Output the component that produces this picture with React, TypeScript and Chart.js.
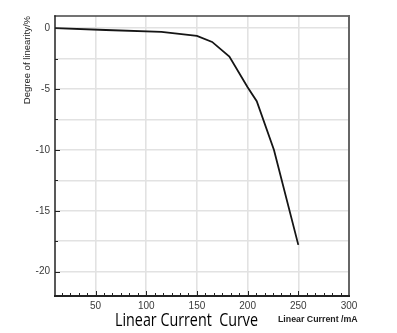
import React, { useEffect, useRef } from "react";
import { Chart, registerables } from "chart.js";

Chart.register(...registerables);

const currentMA = [10, 60, 115, 150, 165, 182, 200, 209, 226, 250];
const linearityPct = [0, -0.15, -0.3, -0.64, -1.13, -2.34, -4.85, -6.0, -10.0, -17.8];
const xTickValues = [50, 100, 150, 200, 250, 300];
const yTickValues = [-20, -17.5, -15, -12.5, -10, -7.5, -5, -2.5, 0];
const yAxisTitle = "Degree of linearity/%";
const xAxisTitle = "Linear Current /mA";
const caption = "Linear Current  Curve";

const decorPlugin = {
  id: "decor",
  afterDraw(chart: any) {
    const { ctx, chartArea: a, scales } = chart;
    const xs = scales.x;
    const ys = scales.y;
    ctx.save();
    // inward ticks
    ctx.strokeStyle = "#222";
    ctx.lineWidth = 1;
    const majorX = 50;
    for (let v = 50; v >= 10; v -= majorX / 6) {
      const px = Math.round(xs.getPixelForValue(v)) + 0.5;
      const len = Math.abs(v % 50) < 0.01 ? 5 : 3;
      ctx.beginPath();
      ctx.moveTo(px, a.bottom);
      ctx.lineTo(px, a.bottom - len);
      ctx.stroke();
    }
    for (let k = 0; k <= 30; k++) {
      const v = 50 + (k * 50) / 6;
      if (v > 300.01) break;
      const px = Math.round(xs.getPixelForValue(v)) + 0.5;
      const len = k % 6 === 0 ? 5 : 3;
      ctx.beginPath();
      ctx.moveTo(px, a.bottom);
      ctx.lineTo(px, a.bottom - len);
      ctx.stroke();
    }
    yTickValues.forEach((v) => {
      const py = Math.round(ys.getPixelForValue(v)) + 0.5;
      const len = v % 5 === 0 ? 5 : 3;
      ctx.beginPath();
      ctx.moveTo(a.left, py);
      ctx.lineTo(a.left + len, py);
      ctx.stroke();
    });
    // frame
    ctx.lineCap = "square";
    ctx.strokeStyle = "#444";
    ctx.lineWidth = 1.5;
    ctx.beginPath();
    ctx.moveTo(a.left, a.top);
    ctx.lineTo(a.right, a.top);
    ctx.stroke();
    ctx.strokeStyle = "#666";
    ctx.lineWidth = 2;
    ctx.beginPath();
    ctx.moveTo(a.right, a.top);
    ctx.lineTo(a.right, a.bottom);
    ctx.stroke();
    ctx.strokeStyle = "#222";
    ctx.lineWidth = 1.5;
    ctx.beginPath();
    ctx.moveTo(a.left, a.top);
    ctx.lineTo(a.left, a.bottom);
    ctx.stroke();
    ctx.lineWidth = 2;
    ctx.beginPath();
    ctx.moveTo(a.left, a.bottom);
    ctx.lineTo(a.right, a.bottom);
    ctx.stroke();

    // y axis title
    ctx.fillStyle = "#222";
    ctx.font = "9.5px 'Liberation Sans', Arial, sans-serif";
    ctx.save();
    ctx.translate(27, a.top);
    ctx.rotate(-Math.PI / 2);
    ctx.textAlign = "right";
    ctx.textBaseline = "middle";
    ctx.fillText(yAxisTitle, 0, 0);
    ctx.restore();

    // x axis title
    ctx.font = "bold 8.8px 'Liberation Sans', Arial, sans-serif";
    ctx.textAlign = "left";
    ctx.textBaseline = "middle";
    ctx.fillText(xAxisTitle, 278, 319.5);

    // caption
    ctx.fillStyle = "#000";
    ctx.font = "18px 'Open Sans', sans-serif";
    const w = ctx.measureText(caption).width;
    ctx.save();
    ctx.translate(115, 326);
    ctx.scale(143 / w, 1);
    ctx.textAlign = "left";
    ctx.textBaseline = "alphabetic";
    ctx.fillText(caption, 0, 0);
    ctx.restore();

    ctx.restore();
  },
};

export default function App() {
  const ref = useRef<HTMLCanvasElement | null>(null);
  useEffect(() => {
    if (!ref.current) return;
    const chart = new Chart(ref.current, {
      type: "line",
      data: {
        datasets: [
          {
            data: currentMA.map((x, i) => ({ x, y: linearityPct[i] })),
            borderColor: "#151515",
            borderWidth: 1.8,
            pointRadius: 0,
            tension: 0,
            fill: false,
          },
        ],
      },
      options: {
        animation: false,
        responsive: false,
        devicePixelRatio: 1,
        layout: { padding: { top: 16, right: 48, left: 0, bottom: 0 } },
        plugins: { legend: { display: false }, tooltip: { enabled: false } },
        scales: {
          x: {
            type: "linear",
            min: 10,
            max: 300,
            afterBuildTicks: (s: any) => {
              s.ticks = xTickValues.map((v) => ({ value: v }));
            },
            afterFit: (s: any) => {
              s.height = 37;
            },
            grid: {
              color: "#e2e2e2",
              drawTicks: false,
              lineWidth: (c: any) => (c.tick && c.tick.value === 300 ? 0 : 1.6),
            },
            border: { display: false },
            ticks: {
              color: "#3a3a3a",
              font: { size: 10, family: "'Liberation Sans', Arial, sans-serif" },
              padding: 4,
              maxRotation: 0,
              autoSkip: false,
            },
          },
          y: {
            type: "linear",
            min: -22,
            max: 1,
            afterBuildTicks: (s: any) => {
              s.ticks = yTickValues.map((v) => ({ value: v }));
            },
            afterFit: (s: any) => {
              s.width = 55;
            },
            grid: { color: "#e2e2e2", lineWidth: 1.6, drawTicks: false },
            border: { display: false },
            ticks: {
              color: "#3a3a3a",
              font: { size: 10, family: "'Liberation Sans', Arial, sans-serif" },
              padding: 5,
              autoSkip: false,
              callback: (v: any) => (Number(v) % 5 === 0 ? String(v) : ""),
            },
          },
        },
      },
      plugins: [decorPlugin],
    });
    return () => chart.destroy();
  }, []);
  return (
    <div style={{ position: "fixed", left: 0, top: 0, width: 397, height: 333, background: "#fff" }}>
      <canvas ref={ref} width={397} height={333} />
    </div>
  );
}
